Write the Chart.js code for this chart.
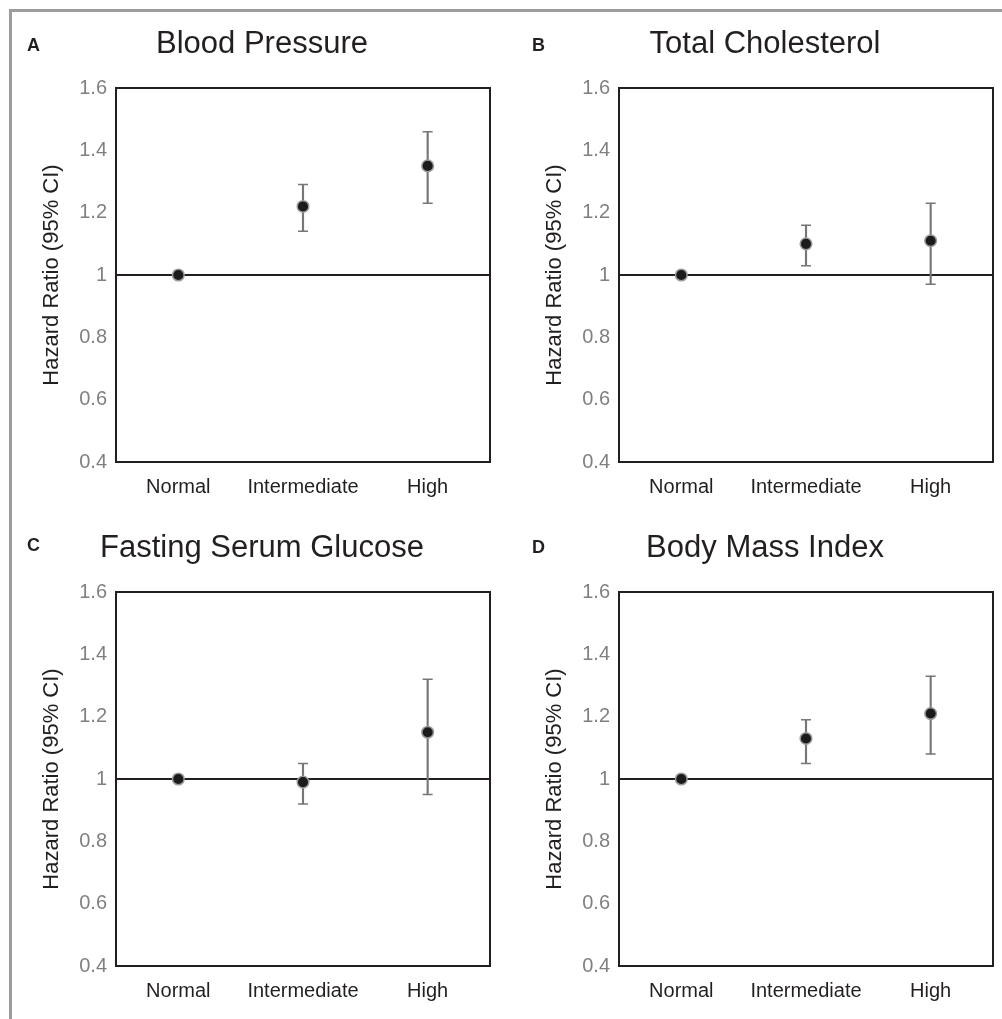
<!DOCTYPE html>
<html lang="en">
<head>
<meta charset="UTF-8">
<title>Hazard Ratios</title>
<script src="https://cdn.jsdelivr.net/npm/chart.js"></script>
<style>
body {
    margin: 0;
    background: #fff;
    width: 1002px;
    height: 1019px;
    overflow: hidden;
    position: relative;
    font-family: 'Liberation Sans', Arial, sans-serif;
}
.frame {
    position: absolute;
    left: 9px;
    top: 9px;
    right: -10px;
    bottom: -10px;
    border-top: 3px solid #9d9d9d;
    border-left: 3px solid #9d9d9d;
}
.panel {
    position: absolute;
}
.letter {
    position: absolute;
    font-weight: bold;
    font-size: 18px;
    line-height: 18px;
    color: #231f20;
}
</style>
</head>
<body>
<div class="frame"></div>
<canvas class="panel" id="chartA" width="500" height="500" style="left:0;top:0"></canvas>
<canvas class="panel" id="chartB" width="500" height="500" style="left:503px;top:0"></canvas>
<canvas class="panel" id="chartC" width="500" height="500" style="left:0;top:504px"></canvas>
<canvas class="panel" id="chartD" width="500" height="500" style="left:503px;top:504px"></canvas>
<div class="letter" style="left:27px;top:36px">A</div>
<div class="letter" style="left:532px;top:36px">B</div>
<div class="letter" style="left:27px;top:536px">C</div>
<div class="letter" style="left:532px;top:538px">D</div>
<script>
const categories = ['Normal', 'Intermediate', 'High'];
const yAxisTitle = 'Hazard Ratio (95% CI)';

// hazard ratio, lower and upper 95% CI (reference group has none)
const bpHR = [1, 1.22, 1.35];
const bpLow = [null, 1.14, 1.23];
const bpHigh = [null, 1.29, 1.46];

const cholHR = [1, 1.10, 1.11];
const cholLow = [null, 1.03, 0.97];
const cholHigh = [null, 1.16, 1.23];

const glucHR = [1, 0.99, 1.15];
const glucLow = [null, 0.92, 0.95];
const glucHigh = [null, 1.05, 1.32];

const bmiHR = [1, 1.13, 1.21];
const bmiLow = [null, 1.05, 1.08];
const bmiHigh = [null, 1.19, 1.33];

const ink = '#231f20';
const barGray = '#777777';
const fontFamily = "'Liberation Sans', Arial, sans-serif";

const boxFrame = {
    id: 'boxFrame',
    afterDraw(chart) {
        const { ctx, chartArea: a } = chart;
        ctx.save();
        ctx.strokeStyle = ink;
        ctx.lineWidth = 2;
        ctx.strokeRect(a.left, a.top, a.right - a.left, a.bottom - a.top);
        ctx.restore();
    }
};

function makeChart(id, title, hr, lo, hi) {
    const ranges = lo.map((l, i) => (l == null ? null : [l, hi[i]]));
    new Chart(document.getElementById(id), {
        type: 'bar',
        data: {
            labels: categories,
            datasets: [
                {
                    type: 'line',
                    data: hr,
                    showLine: false,
                    pointRadius: 5.8,
                    pointBackgroundColor: '#1b1b1b',
                    pointBorderColor: '#9a9a9a',
                    pointBorderWidth: 1.5,
                    order: 0
                },
                {
                    type: 'line',
                    data: lo,
                    showLine: false,
                    pointStyle: 'line',
                    pointRadius: 5,
                    pointBorderColor: barGray,
                    pointBorderWidth: 1.5,
                    order: 1
                },
                {
                    type: 'line',
                    data: hi,
                    showLine: false,
                    pointStyle: 'line',
                    pointRadius: 5,
                    pointBorderColor: barGray,
                    pointBorderWidth: 1.5,
                    order: 1
                },
                {
                    data: ranges,
                    backgroundColor: barGray,
                    borderWidth: 0,
                    barThickness: 1.5,
                    order: 2
                }
            ]
        },
        options: {
            responsive: false,
            animation: false,
            layout: { padding: { left: 34, right: 10, top: 0, bottom: 0 } },
            plugins: {
                legend: { display: false },
                tooltip: { enabled: false },
                title: {
                    display: true,
                    text: title,
                    color: ink,
                    font: { family: fontFamily, size: 31, weight: 'normal' },
                    padding: { top: 25.4, bottom: 25.4 }
                }
            },
            scales: {
                x: {
                    grid: { display: false },
                    border: { display: false },
                    ticks: {
                        color: ink,
                        padding: 5,
                        font: { family: fontFamily, size: 20 }
                    },
                    afterFit(scale) { scale.height = 38; }
                },
                y: {
                    min: 0.4,
                    max: 1.6,
                    border: { display: false },
                    grid: {
                        drawTicks: false,
                        lineWidth: 2,
                        color: c => (c.tick && Math.abs(c.tick.value - 1) < 1e-9 ? ink : 'rgba(0,0,0,0)')
                    },
                    ticks: {
                        stepSize: 0.2,
                        color: '#808080',
                        padding: 9,
                        font: { family: fontFamily, size: 20 },
                        callback: v => String(Number(v.toFixed(1)))
                    },
                    title: {
                        display: true,
                        text: yAxisTitle,
                        color: ink,
                        font: { family: fontFamily, size: 22 },
                        padding: { top: 5, bottom: 0 }
                    },
                    afterFit(scale) { scale.width = 82; }
                }
            }
        },
        plugins: [boxFrame]
    });
}

makeChart('chartA', 'Blood Pressure', bpHR, bpLow, bpHigh);
makeChart('chartB', 'Total Cholesterol', cholHR, cholLow, cholHigh);
makeChart('chartC', 'Fasting Serum Glucose', glucHR, glucLow, glucHigh);
makeChart('chartD', 'Body Mass Index', bmiHR, bmiLow, bmiHigh);
</script>
</body>
</html>
